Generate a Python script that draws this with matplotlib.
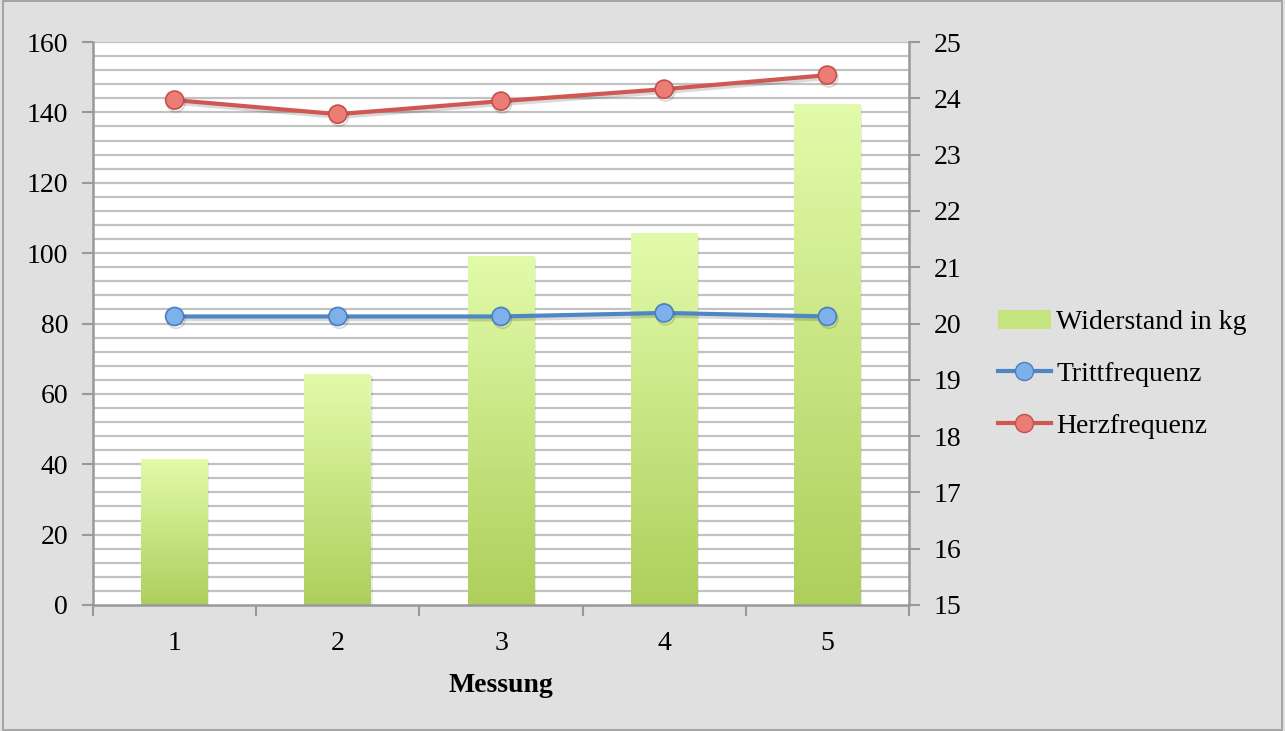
import matplotlib
matplotlib.use('Agg')
import matplotlib.pyplot as plt
import matplotlib.patheffects as pe
from matplotlib.colors import LinearSegmentedColormap
from matplotlib.patches import Patch
from matplotlib.lines import Line2D
import numpy as np

# Messwerte
messung = [1, 2, 3, 4, 5]
widerstand = [17.6, 19.1, 21.2, 21.6, 23.9]       # kg, rechte Achse
trittfrequenz = [82, 82, 82, 83, 82]              # linke Achse
herzfrequenz = [143.5, 139.5, 143.2, 146.6, 150.6]  # linke Achse

plt.rcParams['font.family'] = ['Liberation Serif', 'DejaVu Serif']

fig = plt.figure(figsize=(12.85, 7.31), dpi=100, facecolor='#e0e0e0')
ax = fig.add_axes([0.0724, 0.1724, 0.6350, 0.7701])
ax2 = ax.twinx()

# Balken auf der rechten Achse, Linien auf der linken Achse darüber
ax.set_zorder(ax2.get_zorder() + 1)
ax.patch.set_visible(False)
ax2.patch.set_visible(True)
ax2.set_facecolor('white')

ax2.set_ylim(15, 25)
ax.set_ylim(0, 160)
ax.set_xlim(0.5, 5.5)

# Hilfslinien alle 0.25 kg (= 4 Einheiten links)
for g in np.arange(15.25, 25.01, 0.25):
    ax2.axhline(g, color='#c2c2c2', lw=1.6, zorder=0)

green = LinearSegmentedColormap.from_list('gr', ['#aecf5c', '#e2fbaa'])
grad = np.linspace(0, 1, 256).reshape(-1, 1)
bars = ax2.bar(messung, [w - 15 for w in widerstand], bottom=15, width=0.41,
               color='none', edgecolor='none', zorder=2)
for b in bars:
    x0, y0 = b.get_x(), b.get_y()
    w, h = b.get_width(), b.get_height()
    # leichter Schatten
    ax2.add_patch(plt.Rectangle((x0 + 0.008, y0 - 0.04), w, h, color='#000000',
                                alpha=0.08, zorder=1.5, lw=0))
    im = ax2.imshow(grad, extent=[x0, x0 + w, y0, y0 + h], origin='lower',
                    cmap=green, aspect='auto', zorder=2)
    im.set_clip_path(b)

shadow = [pe.SimpleLineShadow(offset=(1, -2), alpha=0.15), pe.Normal()]
ax.plot(messung, trittfrequenz, color='#4f86c6', lw=3, marker='o', ms=13,
        mfc='#7eb0ea', mec='#4a7fc0', mew=1.2, path_effects=shadow, zorder=3)
ax.plot(messung, herzfrequenz, color='#cf5852', lw=3, marker='o', ms=13,
        mfc='#ec7c76', mec='#c4504a', mew=1.2, path_effects=shadow, zorder=3)
ax2.set_xlim(0.5, 5.5)

# Achsen
axis_col = '#999999'
for a in (ax, ax2):
    for s in a.spines.values():
        s.set_visible(False)
ax.spines['left'].set_visible(True)
ax.spines['left'].set_color(axis_col)
ax.spines['left'].set_linewidth(1.8)
ax.spines['bottom'].set_visible(True)
ax.spines['bottom'].set_color(axis_col)
ax.spines['bottom'].set_linewidth(1.8)
ax2.spines['right'].set_visible(True)
ax2.spines['right'].set_color(axis_col)
ax2.spines['right'].set_linewidth(1.8)

ax.set_yticks(range(0, 161, 20))
ax2.set_yticks(range(15, 26))
ax.set_xticks(np.arange(0.5, 5.6, 1.0))
ax.set_xticklabels([])
ax.set_xticks(messung, minor=True)
ax.set_xticklabels([str(m) for m in messung], minor=True)
ax.tick_params(axis='x', which='minor', length=0, pad=19, labelsize=20)
ax.tick_params(axis='x', which='major', length=8, width=1.5, color=axis_col, direction='out')
ax.tick_params(axis='y', length=8, width=1.5, color=axis_col, pad=10, labelsize=20)
ax2.tick_params(axis='y', length=8, width=1.5, color=axis_col, pad=10, labelsize=20)
ax.set_xlabel('Messung', fontsize=20, fontweight='bold', labelpad=12)

handles = [
    Patch(facecolor='#c6e47e', edgecolor='none'),
    Line2D([], [], color='#4f86c6', lw=3, marker='o', ms=13, mfc='#7eb0ea', mec='#4a7fc0'),
    Line2D([], [], color='#cf5852', lw=3, marker='o', ms=13, mfc='#ec7c76', mec='#c4504a'),
]
fig.legend(handles, ['Widerstand in kg', 'Trittfrequenz', 'Herzfrequenz'],
           loc='center left', bbox_to_anchor=(0.757, 0.488), frameon=False,
           fontsize=20, handlelength=1.9, handletextpad=0.2, labelspacing=0.95)

# Rahmen um die Grafik
fig.patches.append(plt.Rectangle((0.002, 0.002), 0.996, 0.996, transform=fig.transFigure,
                                 fill=False, edgecolor='#9a9a9a', lw=1.2))

fig.savefig('out.png', dpi=100, facecolor=fig.get_facecolor())
